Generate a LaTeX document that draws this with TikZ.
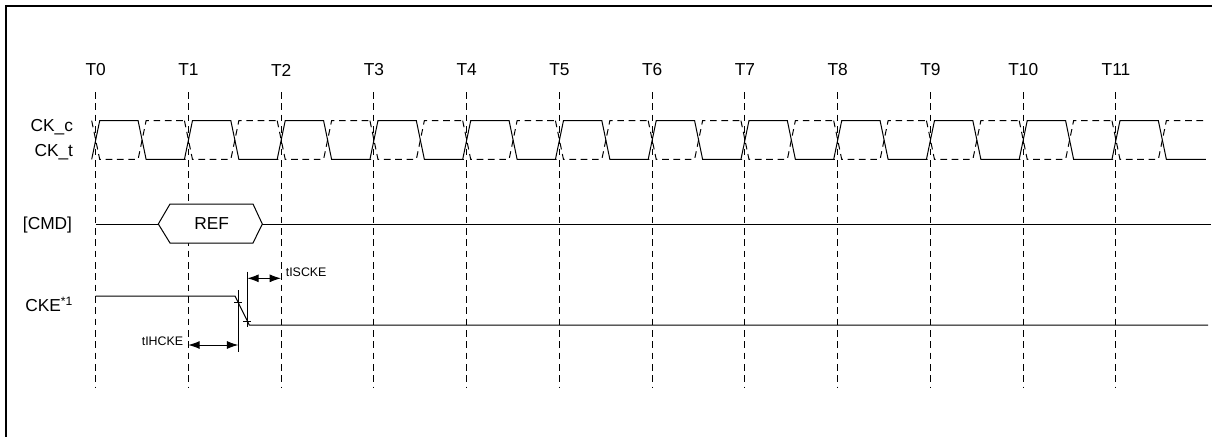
\documentclass[tikz,border=0pt]{standalone}
\usepackage{fontspec}
\setmainfont{Liberation Sans}
\usetikzlibrary{arrows.meta}

\tikzset{
  tick line/.style={dash pattern=on 5pt off 3.5pt},
  ck dash/.style={dash pattern=on 5pt off 3.5pt},
  small label/.style={font=\fontsize{9.3}{11}\selectfont},
  dim arrow/.style={{Latex[length=8.5pt,width=6pt]}-{Latex[length=8.5pt,width=6pt]}},
  cmd box/.style={fill=white}
}

\begin{document}
\begin{tikzpicture}[x=0.75pt, y=-0.75pt, line width=0.75pt, font=\fontsize{13}{15}\selectfont]
  \useasboundingbox (0,0) rectangle (1212,436);
  % Frame
  \draw[line width=1.5pt] (5.7,440) -- (5.7,6.3) -- (1216,6.3);

  % Clock edges, time marks and clock waves
  \foreach \n in {0,...,11}{
    \pgfmathsetmacro\tx{95.7+\n*92.75}
    \node (T\n) at (\tx,70) {T\n};
    \draw[tick line] (\tx,92) -- (\tx,388);
    \draw (\tx-4,159.3) -- (\tx+4,120.7) -- (\tx+42.4,120.7) -- (\tx+50.4,159.3) -- (\tx+90,159.3);
    \draw[ck dash] (\tx-4,120.7) -- (\tx+4,159.3) -- (\tx+42.4,159.3) -- (\tx+50.4,120.7) -- (\tx+90,120.7);
  }

  % Signal names
  \node[anchor=base east] (ckc) at (78,131) {CK\_c};
  \node[anchor=base east] (ckt) at (78,156.5) {CK\_t};
  \node[anchor=base east] (cmd) at (77,229.3) {[CMD]};
  \node[anchor=base east] (cke) at (78,311.7) {CKE\textsuperscript{*1}};

  % Command bus
  \draw (95.7,224) -- (158.3,224);
  \draw[cmd box] (158.3,224) -- (170,204) -- (253,204) -- (262.3,224) -- (253,243) -- (170,243) -- cycle;
  \draw (262.3,224) -- (1211,224);
  \node[anchor=base] (ref) at (211.7,229.3) {REF};

  % CKE falling edge
  \draw (95.7,296) -- (235,296) -- (249.3,325) -- (1208,325);
  \draw (238.3,290) -- (238.3,352);
  \draw (247.3,271.7) -- (247.3,327);
  \draw (234.3,302.7) -- (242.3,302.7);
  \draw (243.3,321) -- (251.3,321);

  % Timing parameters
  \coordinate (isA) at (247.3,278.3);
  \coordinate (isB) at (281,278.3);
  \coordinate (ihA) at (188.3,345);
  \coordinate (ihB) at (238.3,345);
  \draw[dim arrow] (isA) -- (isB);
  \draw[dim arrow] (ihA) -- (ihB);
  \node[small label, anchor=base west, inner sep=1pt] (tis) at (284,276) {tISCKE};
  \node[small label, anchor=base east, inner sep=1pt] (tih) at (185,345.7) {tIHCKE};
\end{tikzpicture}
\end{document}
